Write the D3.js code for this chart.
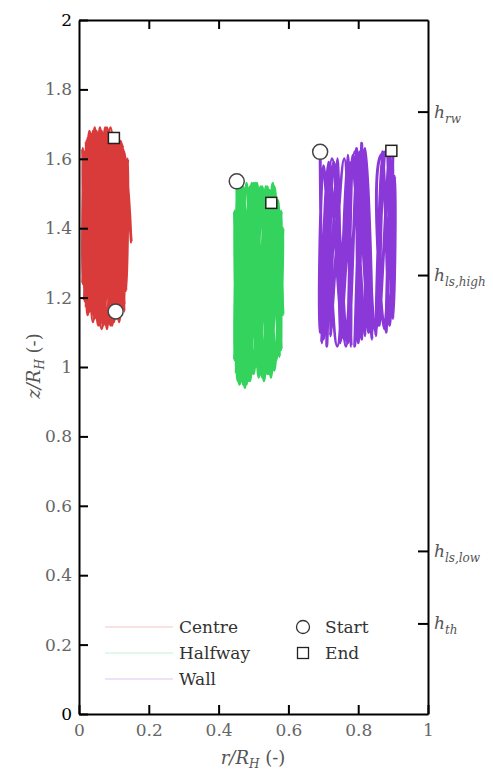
<!DOCTYPE html>
<html>
<head>
<meta charset="utf-8">
<script src="https://cdn.jsdelivr.net/npm/d3@7"></script>
<style>
  body { margin: 0; background: #fff; }
  svg text { font-family: "DejaVu Serif", "Liberation Serif", serif !important; }
</style>
</head>
<body>
<svg id="chart" width="493" height="774"></svg>
<script>
// ── data ─────────────────────────────────────────────────────────────
const xTicks = [0, 0.2, 0.4, 0.6, 0.8, 1];
const yTicks = [0, 0.2, 0.4, 0.6, 0.8, 1, 1.2, 1.4, 1.6, 1.8, 2];

const levelNames = ['rw', 'ls,high', 'ls,low', 'th'];
const levelValues = [1.736, 1.265, 0.47, 0.261];

const seriesNames = ['Centre', 'Halfway', 'Wall'];
const seriesColours = ['#d93a3a', '#34d35e', '#8a38d8'];

// particle tracks as [r/R_H, z/R_H] turning points
const centreTrack = [
  [0.105, 1.16], [0.09, 1.67], [0.07, 1.13], [0.05, 1.68], [0.03, 1.16], [0.02, 1.65],
  [0.015, 1.20], [0.035, 1.67], [0.06, 1.12], [0.08, 1.69], [0.11, 1.14], [0.125, 1.64],
  [0.13, 1.18], [0.11, 1.67], [0.09, 1.12], [0.065, 1.68], [0.045, 1.14], [0.025, 1.66],
  [0.01, 1.24], [0.015, 1.62], [0.04, 1.13], [0.06, 1.69], [0.08, 1.11], [0.10, 1.67],
  [0.12, 1.15], [0.14, 1.60], [0.135, 1.22], [0.12, 1.65], [0.10, 1.13], [0.075, 1.68],
  [0.055, 1.12], [0.03, 1.67], [0.02, 1.17], [0.04, 1.68], [0.07, 1.12], [0.095, 1.67],
  [0.115, 1.13], [0.13, 1.62], [0.15, 1.36], [0.125, 1.63], [0.105, 1.14], [0.085, 1.68],
  [0.06, 1.13], [0.045, 1.69], [0.025, 1.15], [0.01, 1.63], [0.02, 1.21], [0.05, 1.68],
  [0.08, 1.12], [0.10, 1.67], [0.12, 1.17], [0.135, 1.58], [0.125, 1.20], [0.09, 1.69],
  [0.065, 1.11], [0.035, 1.66], [0.015, 1.19], [0.03, 1.68], [0.055, 1.13], [0.075, 1.69],
  [0.095, 1.12], [0.115, 1.66], [0.13, 1.16], [0.10, 1.66]
];

const halfwayTrack = [
  [0.452, 1.535], [0.46, 0.97], [0.47, 1.52], [0.48, 0.95], [0.50, 1.53], [0.52, 0.98],
  [0.53, 1.51], [0.55, 0.97], [0.57, 1.48], [0.58, 1.05], [0.56, 1.52], [0.54, 0.98],
  [0.52, 1.52], [0.50, 0.99], [0.48, 1.53], [0.455, 0.96], [0.445, 1.45], [0.46, 0.95],
  [0.49, 1.52], [0.51, 1.00], [0.535, 1.50], [0.565, 1.02], [0.585, 1.40], [0.575, 1.08],
  [0.555, 1.53], [0.53, 0.96], [0.51, 1.52], [0.49, 0.97], [0.465, 1.53], [0.45, 1.00],
  [0.455, 1.50], [0.475, 0.94], [0.495, 1.53], [0.515, 0.99], [0.545, 1.51], [0.56, 0.99],
  [0.58, 1.42], [0.57, 1.10], [0.55, 1.50], [0.525, 0.97], [0.505, 1.53], [0.485, 0.96],
  [0.46, 1.52], [0.45, 0.98], [0.47, 1.51], [0.50, 0.98], [0.525, 1.52], [0.545, 0.98],
  [0.565, 1.47], [0.585, 1.15], [0.57, 1.45], [0.55, 0.99], [0.54, 1.52], [0.515, 0.97],
  [0.495, 1.52], [0.47, 0.95], [0.455, 1.53], [0.445, 1.02], [0.465, 1.50], [0.49, 0.96],
  [0.51, 1.53], [0.53, 0.99], [0.56, 1.50], [0.575, 1.03], [0.58, 1.45], [0.56, 1.00],
  [0.535, 1.52], [0.551, 1.473]
];

const wallTrack = [
  [0.691, 1.62], [0.70, 1.08], [0.72, 1.58], [0.71, 1.06], [0.73, 1.59], [0.75, 1.07],
  [0.74, 1.60], [0.72, 1.09], [0.76, 1.60], [0.78, 1.06], [0.77, 1.61], [0.75, 1.08],
  [0.79, 1.62], [0.80, 1.07], [0.81, 1.645], [0.79, 1.06], [0.82, 1.63], [0.84, 1.08],
  [0.80, 1.60], [0.77, 1.07], [0.73, 1.57], [0.69, 1.10], [0.70, 1.58], [0.74, 1.06],
  [0.78, 1.59], [0.82, 1.09], [0.805, 1.62], [0.76, 1.08], [0.715, 1.59], [0.695, 1.07],
  [0.725, 1.60], [0.765, 1.06], [0.785, 1.61], [0.81, 1.08], [0.795, 1.63], [0.83, 1.10],
  [0.815, 1.62], [0.85, 1.10], [0.87, 1.62], [0.86, 1.12], [0.89, 1.63], [0.88, 1.10],
  [0.90, 1.61], [0.89, 1.12], [0.87, 1.60], [0.85, 1.09], [0.88, 1.62], [0.90, 1.14],
  [0.905, 1.55], [0.875, 1.11], [0.865, 1.61], [0.895, 1.623]
];

const tracks = [centreTrack, halfwayTrack, wallTrack];

// ── layout ──────────────────────────────────────────────────────────
const W = 493, H = 774;
const svg = d3.select('#chart');
svg.append('rect').attr('width', W).attr('height', H).attr('fill', '#fff');

const x = d3.scaleLinear().domain([0, 1]).range([79, 428]);
const y = d3.scaleLinear().domain([0, 2]).range([714, 20]);

// tracks
const line = d3.line()
  .x(d => x(d[0])).y(d => y(d[1]))
  .curve(d3.curveCatmullRom.alpha(0.5));

const trackG = svg.append('g');
tracks.forEach((t, i) => {
  trackG.append('path')
    .attr('d', line(t))
    .attr('fill', 'none')
    .attr('stroke', seriesColours[i])
    .attr('stroke-width', i === 2 ? 3 : 2.8)
    .attr('stroke-linejoin', 'round');
});

// start / end markers
tracks.forEach(t => {
  const s = t[0], e = t[t.length - 1];
  svg.append('circle')
    .attr('cx', x(s[0])).attr('cy', y(s[1])).attr('r', 7.5)
    .attr('fill', '#fff').attr('stroke', '#444').attr('stroke-width', 1.5);
  svg.append('rect')
    .attr('x', x(e[0]) - 5.5).attr('y', y(e[1]) - 5.5)
    .attr('width', 11).attr('height', 11)
    .attr('fill', '#fff').attr('stroke', '#222').attr('stroke-width', 1.5);
});

// axes
function styleAxis(g) {
  g.attr('font-family', null);
  g.select('.domain').attr('stroke', '#000').attr('stroke-width', 2);
  g.selectAll('.tick line').attr('stroke', '#000').attr('stroke-width', 2);
  g.selectAll('.tick text').attr('font-size', 17).attr('fill', '#666');
}

const gx = svg.append('g').attr('transform', `translate(0,${y(0)})`)
  .call(d3.axisBottom(x).tickValues(xTicks).tickSize(-9).tickPadding(10)
    .tickFormat(d3.format('')).tickSizeOuter(0));
styleAxis(gx);

const gy = svg.append('g').attr('transform', `translate(${x(0)},0)`)
  .call(d3.axisLeft(y).tickValues(yTicks).tickSize(-9).tickPadding(7)
    .tickFormat(d3.format('')).tickSizeOuter(0));
styleAxis(gy);
gy.selectAll('.tick text').filter(d => d === 0 || d === 2).attr('fill', '#000');

const gt = svg.append('g').attr('transform', `translate(0,${y(2)})`)
  .call(d3.axisTop(x).tickValues(xTicks.slice(1, -1)).tickSize(-9)
    .tickFormat('').tickSizeOuter(0));
styleAxis(gt);

const gr = svg.append('g').attr('transform', `translate(${x(1)},0)`)
  .call(d3.axisRight(y).tickValues(levelValues).tickSize(-10).tickPadding(6)
    .tickFormat('').tickSizeOuter(0));
styleAxis(gr);
gr.selectAll('.tick').each(function(d, i) {
  const t = d3.select(this).append('text')
    .attr('x', 6).attr('dy', '0.32em')
    .attr('fill', '#555').attr('font-style', 'italic').attr('font-size', 17);
  t.append('tspan').text('h');
  t.append('tspan').attr('font-size', 12).attr('dy', 5).text(levelNames[i]);
});

// axis titles
const xt = svg.append('text')
  .attr('x', 253).attr('y', 764).attr('text-anchor', 'middle')
  .attr('font-size', 18).attr('fill', '#555');
xt.append('tspan').attr('font-style', 'italic').text('r/R');
xt.append('tspan').attr('font-style', 'italic').attr('font-size', 12).attr('dy', 4).text('H');
xt.append('tspan').attr('dy', -4).text(' (-)');

const yt = svg.append('text')
  .attr('transform', 'translate(40,366) rotate(-90)').attr('text-anchor', 'middle')
  .attr('font-size', 18).attr('fill', '#555');
yt.append('tspan').attr('font-style', 'italic').text('z/R');
yt.append('tspan').attr('font-style', 'italic').attr('font-size', 12).attr('dy', 4).text('H');
yt.append('tspan').attr('dy', -4).text(' (-)');

// legend
const legY = [627, 653, 679];
seriesNames.forEach((name, i) => {
  svg.append('line')
    .attr('x1', 105).attr('x2', 173).attr('y1', legY[i]).attr('y2', legY[i])
    .attr('stroke', seriesColours[i]).attr('stroke-opacity', 0.3).attr('stroke-width', 1.2);
  svg.append('text')
    .attr('x', 179).attr('y', legY[i]).attr('dy', '0.33em')
    .attr('font-size', 17).attr('fill', '#333').text(name);
});
svg.append('circle').attr('cx', 303).attr('cy', legY[0]).attr('r', 6.5)
  .attr('fill', '#fff').attr('stroke', '#333').attr('stroke-width', 1.3);
svg.append('rect').attr('x', 297.5).attr('y', legY[1] - 5.5).attr('width', 11).attr('height', 11)
  .attr('fill', '#fff').attr('stroke', '#222').attr('stroke-width', 1.3);
svg.append('text').attr('x', 325).attr('y', legY[0]).attr('dy', '0.33em')
  .attr('font-size', 17).attr('fill', '#333').text('Start');
svg.append('text').attr('x', 325).attr('y', legY[1]).attr('dy', '0.33em')
  .attr('font-size', 17).attr('fill', '#333').text('End');
</script>
</body>
</html>
